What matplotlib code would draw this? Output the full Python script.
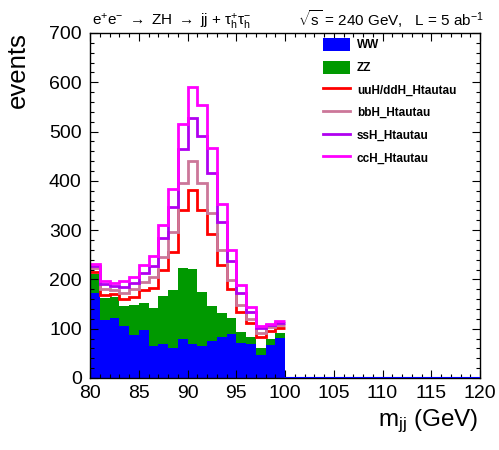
import numpy as np
import matplotlib
matplotlib.use("Agg")
import matplotlib.pyplot as plt
from matplotlib.patches import Rectangle
from matplotlib.lines import Line2D
from matplotlib.ticker import MultipleLocator

plt.rcParams['font.family'] = ['Liberation Sans', 'DejaVu Sans']
plt.rcParams['mathtext.fontset'] = 'custom'
plt.rcParams['mathtext.rm'] = 'Liberation Sans'
plt.rcParams['mathtext.it'] = 'Liberation Sans'
plt.rcParams['mathtext.default'] = 'regular'

# 1 GeV bins of the dijet mass, 80-100 GeV
bin_edges = np.arange(80, 101)

# per-process event counts in each bin (stacked in this order)
ww = [172, 118, 122, 106, 87, 97, 65, 70, 60, 80, 68, 65, 76, 84, 89, 71, 70, 47, 67, 81]
zz = [39, 44, 43, 40, 61, 55, 78, 96, 118, 144, 154, 110, 70, 47, 32, 23, 14, 13, 13, 10]
uuh_ddh = [5, 6, 6, 14, 17, 26, 39, 54, 78, 117, 159, 166, 147, 98, 59, 40, 27, 24, 16, 10]
bbh = [7, 12, 7, 12, 15, 17, 23, 26, 41, 54, 60, 54, 42, 31, 19, 14, 8, 8, 8, 6]
ssh = [4, 10, 8, 13, 13, 18, 23, 39, 50, 69, 87, 96, 80, 57, 38, 25, 15, 10, 3, 5]
cch = [4, 7, 6, 12, 12, 16, 19, 25, 36, 52, 62, 63, 51, 36, 23, 16, 11, 4, 3, 4]

labels = ["WW", "ZZ", "uuH/ddH_Htautau", "bbH_Htautau", "ssH_Htautau", "ccH_Htautau"]
colors = ["#0000ff", "#009900", "#ff0000", "#cc7799", "#b000f0", "#ff00ff"]

stack = np.cumsum(np.array([ww, zz, uuh_ddh, bbh, ssh, cch], dtype=float), axis=0)

fig = plt.figure(figsize=(4.99, 4.50), dpi=100)
ax = fig.add_axes([90 / 499, 72 / 450, 390 / 499, 345 / 450])

# filled backgrounds
ax.stairs(stack[1], bin_edges, fill=True, color=colors[1], lw=0)
ax.stairs(stack[0], bin_edges, fill=True, color=colors[0], lw=0)
ax.plot([100, 120], [0, 0], color=colors[0], lw=1.5, zorder=3)

# signal contributions drawn as cumulative outlines
for k in range(2, 6):
    ax.stairs(stack[k], bin_edges, color=colors[k], lw=2.0, baseline=None)

ax.set_xlim(80, 120)
ax.set_ylim(0, 700)
ax.xaxis.set_major_locator(MultipleLocator(5))
ax.xaxis.set_minor_locator(MultipleLocator(1))
ax.yaxis.set_major_locator(MultipleLocator(100))
ax.yaxis.set_minor_locator(MultipleLocator(20))
ax.tick_params(which='both', direction='in', top=True, right=True, labelsize=14, width=0.8)
ax.tick_params(which='major', length=6)
ax.tick_params(which='minor', length=3)
ax.tick_params(axis='x', pad=5)
ax.tick_params(axis='y', pad=6)
for s in ax.spines.values():
    s.set_linewidth(1.0)

fig.text(478 / 499, 1 - 426 / 450, r"m$_{jj}$ (GeV)", ha='right', va='baseline', fontsize=17.5)
fig.text(25 / 499, 1 - 32 / 450, "events", rotation=90, rotation_mode='anchor',
         ha='right', va='baseline', fontsize=18.5)

fig.text(92 / 499, 1 - 26 / 450,
         r"e$^{+}$e$^{-}$ $\rightarrow$ ZH $\rightarrow$ jj + $\tau^{+}_{h}\tau^{-}_{h}$",
         ha='left', va='baseline', fontsize=11)
fig.text(484 / 499, 1 - 26 / 450, r"$\sqrt{s}$ = 240 GeV,   L = 5 ab$^{-1}$",
         ha='right', va='baseline', fontsize=11)

handles = [Rectangle((0, 0), 1, 1, facecolor=colors[0], edgecolor='none'),
           Rectangle((0, 0), 1, 1, facecolor=colors[1], edgecolor='none')]
handles += [Line2D([], [], color=c, lw=2.0) for c in colors[2:]]
fig.legend(handles, labels, loc='upper left', bbox_to_anchor=(323 / 499, 1 - 38 / 450),
           bbox_transform=fig.transFigure, frameon=False, borderpad=0, borderaxespad=0,
           handlelength=2.3, handleheight=1.33, labelspacing=0.77, handletextpad=0.57,
           prop={'size': 8.5, 'weight': 'bold'})

fig.savefig("out.png", dpi=100)
